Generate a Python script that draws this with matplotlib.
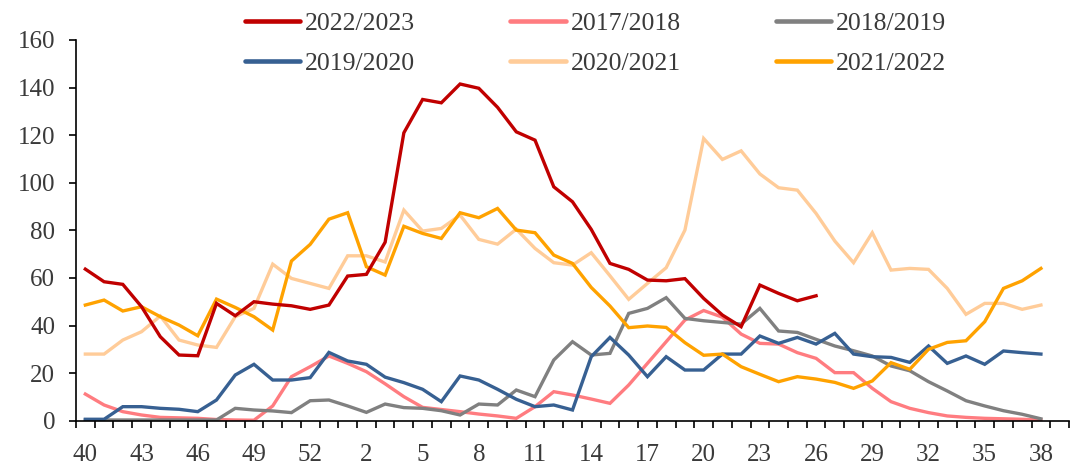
import matplotlib
matplotlib.use('Agg')
import matplotlib.pyplot as plt
import numpy as np

# Semanas de campaña: 40..53, 1..38 (+1 hueco al final)
weeks = list(range(40, 54)) + list(range(1, 39))

s_2022_23 = [63.7, 58.4, 57.3, 47.9, 35.3, 27.6, 27.3, 49.3, 44.1, 50.0, 49.0, 48.3, 46.8, 48.6,
             60.8, 61.5, 75.0, 121.0, 135.0, 133.6, 141.5, 139.7, 131.7, 121.4, 117.9, 98.3,
             92.0, 80.4, 66.1, 63.6, 59.1, 58.8, 59.7, 51.4, 44.4, 39.5, 57.0, 53.5, 50.4, 52.5]
s_2017_18 = [11.2, 6.6, 3.8, 2.4, 1.4, 1.2, 1.0, 0.5, 0.3, 0.2, 6.2, 18.5, 22.7, 27.2, 24.1,
             20.6, 15.5, 10.1, 5.6, 4.7, 3.8, 2.8, 2.0, 1.0, 5.9, 12.2, 10.8, 9.1, 7.3, 15.0,
             24.1, 33.2, 42.3, 46.3, 43.5, 36.4, 32.5, 32.2, 28.6, 26.2, 20.2, 20.2, 13.6, 8.0,
             5.2, 3.4, 2.0, 1.4, 1.0, 0.8, 0.6, 0.3]
s_2018_19 = [0.3, 0.3, 0.3, 0.3, 0.3, 0.3, 0.3, 0.3, 5.2, 4.5, 4.1, 3.4, 8.4, 8.7, 6.2, 3.5,
             7.0, 5.5, 5.2, 4.2, 2.4, 7.0, 6.6, 12.9, 10.1, 25.5, 33.2, 27.6, 28.3, 45.1, 47.2,
             51.7, 43.0, 42.0, 41.3, 40.6, 47.2, 37.7, 37.1, 34.2, 31.4, 29.4, 27.2, 23.0, 21.0,
             16.4, 12.5, 8.4, 6.2, 4.2, 2.7, 0.8]
s_2019_20 = [0.6, 0.6, 5.9, 5.9, 5.2, 4.8, 3.8, 8.7, 19.2, 23.7, 17.1, 17.1, 18.1, 28.7, 25.1,
             23.7, 18.3, 16.0, 13.2, 8.0, 18.8, 17.1, 13.2, 9.0, 5.9, 6.6, 4.5, 26.9, 35.0, 27.6,
             18.5, 26.9, 21.3, 21.3, 28.0, 28.0, 35.6, 32.5, 35.0, 32.2, 36.7, 28.0, 26.9, 26.6,
             24.5, 31.4, 24.1, 27.2, 23.7, 29.3, 28.6, 28.0]
s_2020_21 = [28.0, 28.0, 33.9, 37.4, 44.0, 33.9, 31.8, 30.8, 43.7, 47.2, 65.8, 59.8, 57.7, 55.6,
             69.3, 69.3, 66.7, 88.5, 79.7, 80.8, 86.4, 76.2, 74.2, 80.5, 72.4, 66.4, 65.4, 70.6,
             60.9, 51.0, 57.7, 64.3, 80.1, 118.6, 109.8, 113.4, 103.7, 97.9, 96.9, 87.1, 75.5,
             66.4, 79.0, 63.3, 64.0, 63.6, 55.6, 44.7, 49.3, 49.3, 46.8, 48.6]
s_2021_22 = [48.6, 50.7, 46.1, 47.9, 43.7, 40.2, 35.7, 51.1, 47.6, 43.7, 38.1, 67.1, 74.1, 84.7,
             87.4, 64.7, 61.2, 81.7, 78.7, 76.6, 87.4, 85.3, 89.2, 80.1, 79.0, 69.6, 66.1, 56.0,
             48.2, 39.1, 39.8, 39.2, 32.8, 27.5, 28.0, 22.7, 19.5, 16.4, 18.5, 17.5, 16.1, 13.6,
             16.7, 24.4, 21.6, 30.0, 32.9, 33.6, 41.6, 55.6, 58.8, 64.0]

series = [
    ('2022/2023', s_2022_23, '#C00000'),
    ('2017/2018', s_2017_18, '#FF7C80'),
    ('2018/2019', s_2018_19, '#808080'),
    ('2019/2020', s_2019_20, '#376092'),
    ('2020/2021', s_2020_21, '#FFCC99'),
    ('2021/2022', s_2021_22, '#FFA200'),
]

plt.rcParams['font.family'] = ['Liberation Serif', 'DejaVu Serif']
TXT = '#3a3a3a'

fig = plt.figure(figsize=(10.73, 4.66), dpi=100)
ax = fig.add_axes([0.0708, 0.0972, 0.9255, 0.817])

lines = {}
# orden de dibujo: la serie actual encima
for name, vals, color in series[1:] + series[:1]:
    ln, = ax.plot(range(len(vals)), vals, color=color, linewidth=2.4,
                  solid_joinstyle='miter', label=name)
    lines[name] = ln

ax.set_xlim(-0.5, len(weeks) + 0.5)
ax.set_ylim(0, 160)
ax.set_yticks(np.arange(0, 161, 20))

# ticks en los bordes de categoría, etiquetas cada 3 semanas
ax.set_xticks(np.arange(-0.5, len(weeks) + 1))
ax.set_xticklabels([])
ax.set_xticks(np.arange(0, len(weeks), 3), minor=True)
ax.set_xticklabels([str(weeks[i]) for i in range(0, len(weeks), 3)], minor=True)
ax.tick_params(axis='x', which='major', direction='out', length=5, width=1.2, color='black')
ax.tick_params(axis='x', which='minor', length=0, pad=17, labelsize=18, labelcolor=TXT)
ax.tick_params(axis='y', direction='out', length=5, width=1.2, pad=10, labelsize=18, labelcolor=TXT)

for side in ['top', 'right']:
    ax.spines[side].set_visible(False)
ax.spines['left'].set_linewidth(1.2)
ax.spines['bottom'].set_linewidth(1.2)

# leyenda en 2 filas (orden por filas)
order = ['2022/2023', '2019/2020', '2017/2018', '2020/2021', '2018/2019', '2021/2022']
leg = fig.legend([lines[n] for n in order], order, ncol=3, loc='center',
                 bbox_to_anchor=(0.555, 0.907), frameon=False, fontsize=18.5,
                 handlelength=2.15, handletextpad=0.2, columnspacing=3.7,
                 labelspacing=0.68, borderpad=0)
for t in leg.get_texts():
    t.set_color(TXT)
for h in leg.legend_handles:
    h.set_linewidth(3.3)
    h.set_solid_capstyle('round')

plt.savefig('out.png', dpi=100)
plt.close()
